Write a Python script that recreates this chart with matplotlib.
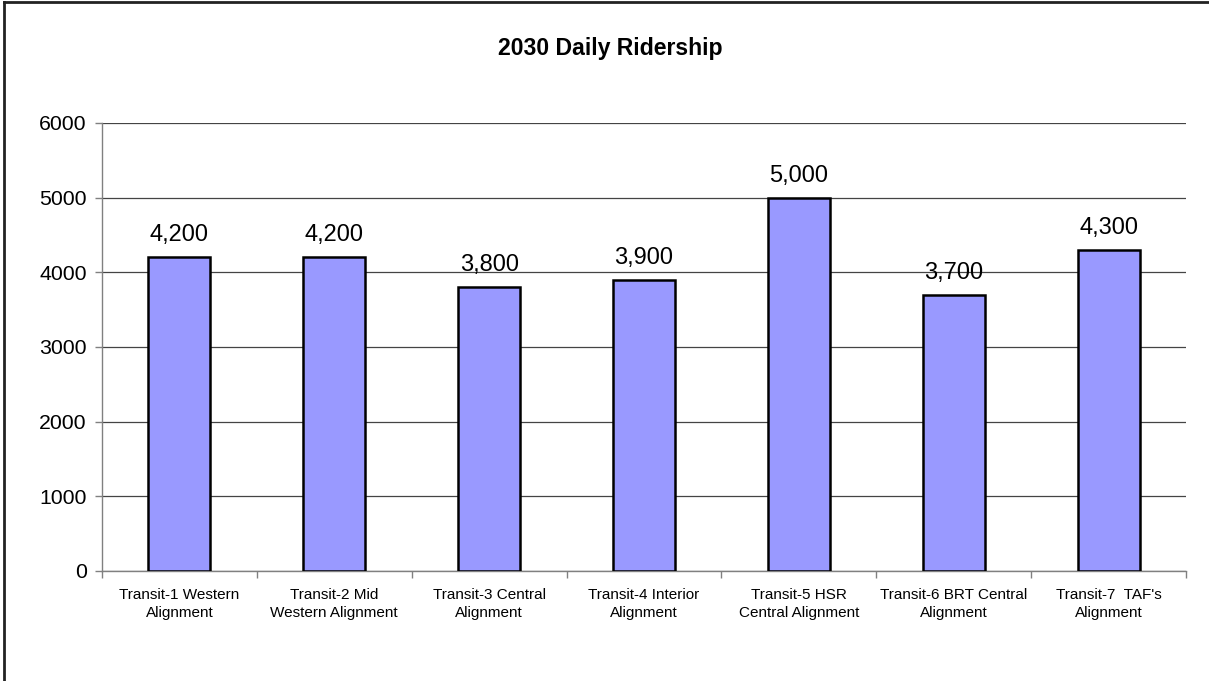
import matplotlib
matplotlib.use("Agg")
import matplotlib.pyplot as plt
from matplotlib.lines import Line2D
import numpy as np

plt.rcParams['font.family'] = ['Liberation Sans', 'DejaVu Sans']

categories = [
    "Transit-1 Western\nAlignment",
    "Transit-2 Mid\nWestern Alignment",
    "Transit-3 Central\nAlignment",
    "Transit-4 Interior\nAlignment",
    "Transit-5 HSR\nCentral Alignment",
    "Transit-6 BRT Central\nAlignment",
    "Transit-7  TAF's\nAlignment",
]
ridership = [4200, 4200, 3800, 3900, 5000, 3700, 4300]
y_ticks = [0, 1000, 2000, 3000, 4000, 5000, 6000]

W, H = 1209, 681
fig = plt.figure(figsize=(W / 100, H / 100), dpi=100)
fig.patch.set_facecolor('white')

# outer frame (top and left edges)
fig.add_artist(Line2D([4 / W, 1], [1 - 2 / H, 1 - 2 / H], transform=fig.transFigure,
                      color='#222222', lw=2))
fig.add_artist(Line2D([4 / W, 4 / W], [0, 1 - 2 / H], transform=fig.transFigure,
                      color='#222222', lw=2))

left, right, top, bottom = 102, 1186, 123, 571
ax = fig.add_axes([left / W, 1 - bottom / H, (right - left) / W, (bottom - top) / H])

x = np.arange(len(categories))
ax.bar(x, ridership, width=0.4, color='#9999FF', edgecolor='black', linewidth=1.8, zorder=3)

for xi, v in zip(x, ridership):
    ax.annotate(f"{v:,}", (xi, v), xytext=(0, 8), textcoords='offset points',
                ha='center', va='bottom', fontsize=17)

ax.set_xlim(-0.5, len(categories) - 0.5)
ax.set_ylim(0, 6000)
ax.set_yticks(y_ticks)
ax.set_yticklabels([str(t) for t in y_ticks], fontsize=15.3)
ax.yaxis.grid(True, color='#444444', linewidth=0.9, zorder=0)
ax.set_axisbelow(True)

ax.set_xticks(x)
ax.set_xticklabels(categories, fontsize=11, linespacing=1.4)
ax.set_xticks(np.arange(-0.5, len(categories)), minor=True)
ax.tick_params(axis='x', which='major', length=0, pad=12)
ax.tick_params(axis='x', which='minor', length=5, color='#808080', width=1)
ax.tick_params(axis='y', length=5, color='#808080', width=1, pad=6)

for s in ['top', 'right']:
    ax.spines[s].set_visible(False)
ax.spines['left'].set_color('#808080')
ax.spines['bottom'].set_color('#808080')
ax.spines['left'].set_linewidth(1)
ax.spines['bottom'].set_linewidth(1)

fig.text(610 / W, 1 - 48 / H, "2030 Daily Ridership",
         ha='center', va='center', fontsize=16.6, fontweight='bold')

fig.savefig("out.png", dpi=100, facecolor='white')
